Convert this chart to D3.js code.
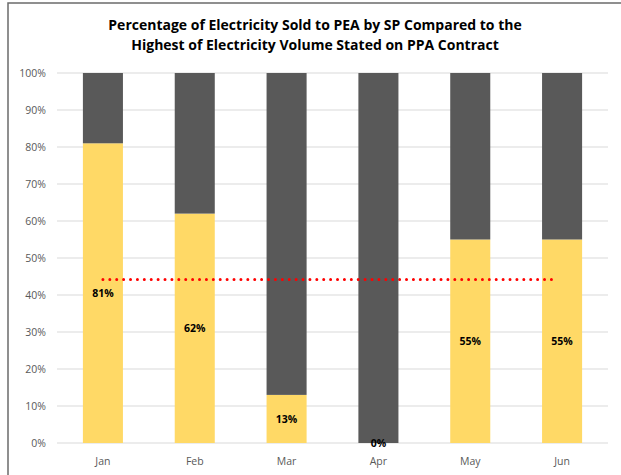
<!DOCTYPE html>
<html><head><meta charset="utf-8">
<script src="https://cdn.jsdelivr.net/npm/d3@7"></script>
<style>body{margin:0;background:#fff}svg{display:block}</style>
</head><body><svg id="c" width="621" height="475"></svg>
<script>
const months = ["Jan","Feb","Mar","Apr","May","Jun"];
const soldPct = [81, 62, 13, 0, 55, 55];
const remainderPct = soldPct.map(v => 100 - v);
const referenceLine = 44.2;
const yTicks = [0,10,20,30,40,50,60,70,80,90,100];
const titleLines = ["Percentage of Electricity Sold to PEA by SP Compared to the","Highest of Electricity Volume Stated on PPA Contract"];

const svg = d3.select("#c");
const font = "'Open Sans', sans-serif";
// frame
svg.append("rect").attr("x",8).attr("y",3).attr("width",700).attr("height",600)
  .attr("fill","none").attr("stroke","#6b6b6b").attr("stroke-width",1.5);

const x = d3.scaleBand().domain(months).range([57,608]).padding(0);
const y = d3.scaleLinear().domain([0,100]).range([443,73]);
const bw = x.bandwidth()*0.436;

// grid
svg.append("g").selectAll("line").data(yTicks).join("line")
  .attr("x1",57).attr("x2",608).attr("y1",d=>y(d)).attr("y2",d=>y(d))
  .attr("stroke","#d9d9d9").attr("stroke-width",1);

// y labels
svg.append("g").selectAll("text").data(yTicks).join("text")
  .attr("x",46).attr("y",d=>y(d)).attr("dy","0.35em").attr("text-anchor","end")
  .attr("font-family",font).attr("font-size",10.5).attr("fill","#595959")
  .text(d=>d+"%");

// stacked bars
const stack = months.map((m,i)=>({m, a:soldPct[i], b:remainderPct[i]}));
const bars = svg.append("g");
bars.selectAll("rect.s").data(stack).join("rect").attr("class","s")
  .attr("x",d=>x(d.m)+(x.bandwidth()-bw)/2).attr("width",bw)
  .attr("y",d=>y(d.a)).attr("height",d=>y(0)-y(d.a)).attr("fill","#ffd966");
bars.selectAll("rect.r").data(stack).join("rect").attr("class","r")
  .attr("x",d=>x(d.m)+(x.bandwidth()-bw)/2).attr("width",bw)
  .attr("y",d=>y(d.a+d.b)).attr("height",d=>y(d.a)-y(d.a+d.b)).attr("fill","#595959");

// reference dotted line
svg.append("line")
  .attr("x1",x("Jan")+x.bandwidth()/2).attr("x2",x("Jun")+x.bandwidth()/2-5)
  .attr("y1",y(referenceLine)).attr("y2",y(referenceLine))
  .attr("stroke","#ff0000").attr("stroke-width",3).attr("stroke-linecap","round")
  .attr("stroke-dasharray","0 6.9");

// value labels
svg.append("g").selectAll("text").data(stack).join("text")
  .attr("x",d=>x(d.m)+x.bandwidth()/2).attr("y",d=>y(d.a/2)).attr("dy","0.35em")
  .attr("text-anchor","middle").attr("font-family",font).attr("font-weight","bold")
  .attr("font-size",10.5).attr("fill","#000").text(d=>d.a+"%");

// x labels
svg.append("g").selectAll("text").data(months).join("text")
  .attr("x",d=>x(d)+x.bandwidth()/2).attr("y",461).attr("dy","0.35em")
  .attr("text-anchor","middle").attr("font-family",font).attr("font-size",10.5)
  .attr("fill","#595959").text(d=>d);

// title
svg.append("g").selectAll("text").data(titleLines).join("text")
  .attr("x",315).attr("y",(d,i)=>30+i*20).attr("text-anchor","middle")
  .attr("font-family",font).attr("font-weight","bold").attr("font-size",14)
  .attr("fill","#000").text(d=>d);
</script></body></html>
